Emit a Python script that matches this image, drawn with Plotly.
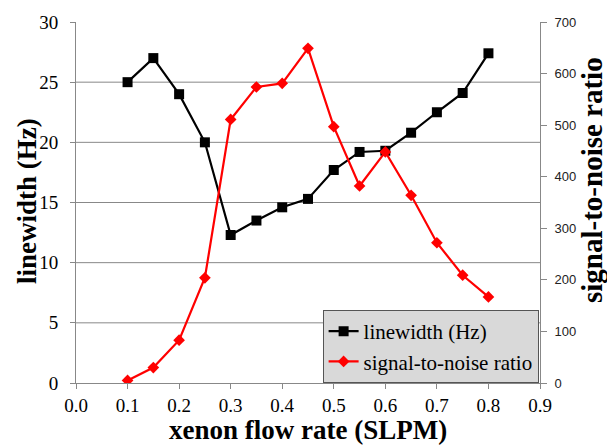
import plotly.graph_objects as go

flow = [0.10, 0.15, 0.20, 0.25, 0.30, 0.35, 0.40, 0.45, 0.50, 0.55, 0.60, 0.65, 0.70, 0.75, 0.80]
linewidth = [25.0, 27.0, 24.0, 20.0, 12.3, 13.5, 14.6, 15.3, 17.7, 19.2, 19.3, 20.8, 22.5, 24.1, 27.4]
snr = [5, 30, 83, 204, 511, 574, 581, 649, 497, 382, 448, 364, 272, 209, 167]

x_ticks = [0.0, 0.1, 0.2, 0.3, 0.4, 0.5, 0.6, 0.7, 0.8, 0.9]
x_ticklabels = ["0.0", "0.1", "0.2", "0.3", "0.4", "0.5", "0.6", "0.7", "0.8", "0.9"]
y_ticks = [0, 5, 10, 15, 20, 25, 30]
y_grid = [5, 10, 15, 20, 25]
y2_ticks = [0, 100, 200, 300, 400, 500, 600, 700]

serif = "Times New Roman, Liberation Serif, serif"
sans = "Liberation Sans"

fig = go.Figure()
fig.add_trace(go.Scatter(
    x=flow, y=linewidth, name="linewidth (Hz)", mode="lines+markers",
    line=dict(color="black", width=2.2),
    marker=dict(symbol="square", size=10, color="black"),
    yaxis="y",
))
fig.add_trace(go.Scatter(
    x=flow, y=snr, name="signal-to-noise ratio", mode="lines+markers",
    line=dict(color="#ff0000", width=2.2),
    marker=dict(symbol="diamond", size=9, color="#ff0000"),
    yaxis="y2",
))

grid_color = "#888888"
shapes = [
    dict(type="line", xref="paper", yref="y", x0=0, x1=1, y0=g, y1=g,
         line=dict(color=grid_color, width=1), layer="below")
    for g in y_grid
]

plot_h = 448 - 22 - 65
plot_w = 607 - 76 - 67
def py(ypix):
    return (448 - 65 - ypix) / plot_h
def px(xpix):
    return (xpix - 76) / plot_w

fig.update_layout(
    width=607, height=448,
    margin=dict(l=76, r=67, t=22, b=65),
    paper_bgcolor="white", plot_bgcolor="white",
    font=dict(family=serif),
    showlegend=True,
    shapes=shapes,
    legend=dict(
        x=0.997, y=0, xanchor="right", yanchor="bottom",
        bgcolor="#d9d9d9", bordercolor="#555555", borderwidth=1,
        font=dict(family=serif, size=21, color="black"),
        tracegroupgap=0, itemwidth=30,
    ),
    xaxis=dict(
        range=[0, 0.9], tickvals=x_ticks, ticktext=x_ticklabels,
        showgrid=False, zeroline=False,
        showline=True, linecolor=grid_color, linewidth=1,
        ticks="outside", ticklen=5, tickcolor=grid_color,
        tickfont=dict(family=serif, size=19, color="black"),
    ),
    yaxis=dict(
        range=[0, 30], tickvals=y_ticks,
        showgrid=False, zeroline=False,
        showline=True, linecolor=grid_color, linewidth=1,
        ticks="outside", ticklen=5, tickcolor=grid_color,
        ticklabelstandoff=8,
        tickfont=dict(family=serif, size=19, color="black"),
    ),
    yaxis2=dict(
        range=[0, 700], tickvals=y2_ticks, overlaying="y", side="right",
        showgrid=False, zeroline=False,
        showline=True, linecolor=grid_color, linewidth=1,
        ticks="outside", ticklen=6, tickcolor=grid_color,
        ticklabelstandoff=5,
        tickfont=dict(family=sans, size=13, color="#222222"),
    ),
    annotations=[
        dict(text="<b>xenon flow rate (SLPM)</b>", x=px(308), y=py(430), xref="paper", yref="paper",
             showarrow=False, font=dict(family=serif, size=27, color="black"),
             xanchor="center", yanchor="middle"),
        dict(text="<b>linewidth (Hz)</b>", x=px(27), y=py(201), xref="paper", yref="paper",
             showarrow=False, textangle=-90, font=dict(family=serif, size=27, color="black"),
             xanchor="center", yanchor="middle"),
        dict(text="<b>signal-to-noise ratio</b>", x=px(592), y=py(180), xref="paper", yref="paper",
             showarrow=False, textangle=-90, font=dict(family=serif, size=29, color="black"),
             xanchor="center", yanchor="middle"),
    ],
)

fig.write_html("out.html")
